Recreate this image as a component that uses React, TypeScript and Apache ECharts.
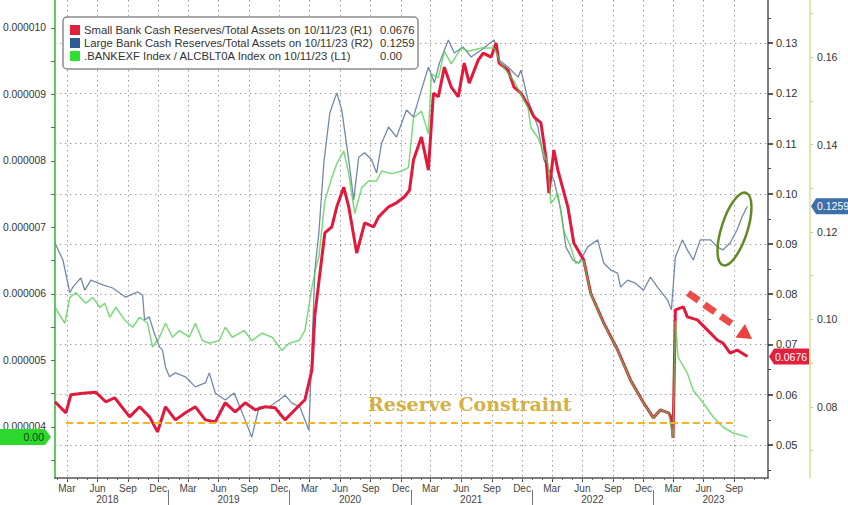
import { useEffect, useRef } from "react";
import * as echarts from "echarts";

// ---------- DATA ----------
const smallBank: [string, number][] = [
  ["2018-01-24", 0.0586], ["2018-02-26", 0.0564], ["2018-03-13", 0.06], ["2018-04-18", 0.0603],
  ["2018-05-27", 0.0605], ["2018-06-26", 0.0586], ["2018-07-23", 0.0594], ["2018-09-06", 0.0556],
  ["2018-10-06", 0.0576], ["2018-11-05", 0.0556], ["2018-11-29", 0.0526], ["2018-12-23", 0.0576],
  ["2019-01-22", 0.055], ["2019-02-21", 0.0564], ["2019-03-23", 0.0576], ["2019-04-22", 0.055],
  ["2019-05-22", 0.0546], ["2019-06-21", 0.0584], ["2019-07-21", 0.0566], ["2019-08-20", 0.0584],
  ["2019-09-19", 0.057], ["2019-10-19", 0.0576], ["2019-11-18", 0.0574], ["2019-12-18", 0.055],
  ["2020-01-17", 0.057], ["2020-02-16", 0.059], ["2020-03-08", 0.0649], ["2020-03-17", 0.0759],
  ["2020-04-16", 0.0922], ["2020-05-07", 0.0934], ["2020-05-22", 0.0974], ["2020-06-12", 0.1013],
  ["2020-06-27", 0.0974], ["2020-07-21", 0.0882], ["2020-08-14", 0.0942], ["2020-09-10", 0.0934],
  ["2020-09-25", 0.0954], ["2020-10-25", 0.0974], ["2020-11-18", 0.0982], ["2020-12-12", 0.0994],
  ["2020-12-27", 0.1007], ["2021-01-08", 0.1067], ["2021-02-01", 0.1113], ["2021-02-22", 0.1047],
  ["2021-03-09", 0.12], ["2021-03-24", 0.1193], ["2021-04-11", 0.1252], ["2021-05-02", 0.1212],
  ["2021-05-23", 0.1193], ["2021-06-10", 0.126], ["2021-06-25", 0.122], ["2021-07-22", 0.1266],
  ["2021-08-06", 0.128], ["2021-08-30", 0.1272], ["2021-09-14", 0.13], ["2021-09-23", 0.126],
  ["2021-10-20", 0.1246], ["2021-11-07", 0.1212], ["2021-11-28", 0.12], ["2021-12-22", 0.1173],
  ["2022-01-06", 0.1153], ["2022-01-27", 0.1141], ["2022-02-11", 0.1073], ["2022-02-20", 0.1001],
  ["2022-03-07", 0.1087], ["2022-03-19", 0.1047], ["2022-04-18", 0.0974], ["2022-05-06", 0.0902],
  ["2022-06-05", 0.0868], ["2022-06-26", 0.0802], ["2022-08-04", 0.0743], ["2022-09-15", 0.0689],
  ["2022-10-24", 0.0629], ["2022-12-02", 0.0584], ["2023-01-01", 0.0554], ["2023-01-22", 0.057],
  ["2023-02-15", 0.0564], ["2023-02-24", 0.0554], ["2023-03-01", 0.0514], ["2023-03-08", 0.0769],
  ["2023-04-01", 0.0775], ["2023-04-13", 0.0755], ["2023-05-13", 0.0749], ["2023-06-12", 0.0729],
  ["2023-07-12", 0.0709], ["2023-07-29", 0.0703], ["2023-08-20", 0.0683], ["2023-09-10", 0.0689],
  ["2023-10-11", 0.0676],
];

const largeBank: [string, number][] = [
  ["2018-01-24", 0.1175], ["2018-02-17", 0.1136], ["2018-03-10", 0.1061], ["2018-03-19", 0.1074],
  ["2018-04-12", 0.1095], ["2018-04-24", 0.1067], ["2018-05-12", 0.109], ["2018-06-17", 0.1079],
  ["2018-07-17", 0.1072], ["2018-08-25", 0.1051], ["2018-09-30", 0.1063], ["2018-10-15", 0.1056],
  ["2018-10-21", 0.0999], ["2018-11-04", 0.1006], ["2018-11-19", 0.0969], ["2018-12-05", 0.0937],
  ["2018-12-14", 0.093], ["2018-12-23", 0.0891], ["2019-01-04", 0.0869], ["2019-01-22", 0.0878],
  ["2019-02-21", 0.0869], ["2019-03-23", 0.0846], ["2019-04-22", 0.0855], ["2019-05-04", 0.0878],
  ["2019-05-22", 0.0832], ["2019-06-21", 0.0816], ["2019-07-18", 0.0832], ["2019-08-20", 0.077],
  ["2019-09-09", 0.0731], ["2019-10-01", 0.08], ["2019-10-31", 0.08], ["2019-11-30", 0.0816],
  ["2019-12-18", 0.0827], ["2020-01-08", 0.0809], ["2020-02-01", 0.08], ["2020-02-28", 0.0747],
  ["2020-03-17", 0.1113], ["2020-03-29", 0.1198], ["2020-04-13", 0.1358], ["2020-05-01", 0.1472],
  ["2020-05-22", 0.1518], ["2020-06-06", 0.1479], ["2020-06-27", 0.1365], ["2020-07-12", 0.1273],
  ["2020-07-27", 0.1371], ["2020-08-14", 0.1381], ["2020-09-04", 0.1365], ["2020-09-19", 0.1335],
  ["2020-10-04", 0.1403], ["2020-10-25", 0.144], ["2020-11-18", 0.1417], ["2020-12-18", 0.1479],
  ["2021-01-08", 0.1463], ["2021-02-01", 0.1525], ["2021-02-22", 0.1577], ["2021-03-12", 0.1541],
  ["2021-03-27", 0.1586], ["2021-04-23", 0.1639], ["2021-05-11", 0.1609], ["2021-06-06", 0.1623],
  ["2021-07-01", 0.16], ["2021-07-31", 0.1616], ["2021-09-08", 0.1639], ["2021-09-23", 0.1593],
  ["2021-10-20", 0.1577], ["2021-11-19", 0.1554], ["2021-11-28", 0.157], ["2021-12-19", 0.1502],
  ["2022-01-18", 0.144], ["2022-02-05", 0.1365], ["2022-03-07", 0.1319], ["2022-03-28", 0.125],
  ["2022-04-12", 0.1166], ["2022-05-03", 0.1136], ["2022-05-21", 0.1129], ["2022-06-17", 0.1166],
  ["2022-07-17", 0.1182], ["2022-08-04", 0.1129], ["2022-08-25", 0.1113], ["2022-09-15", 0.1106],
  ["2022-09-24", 0.1074], ["2022-10-15", 0.109], ["2022-11-08", 0.1083], ["2022-12-02", 0.1067],
  ["2022-12-23", 0.1097], ["2023-01-13", 0.1074], ["2023-02-12", 0.1045], ["2023-02-24", 0.1022],
  ["2023-03-08", 0.1143], ["2023-03-29", 0.1182], ["2023-04-13", 0.1159], ["2023-05-01", 0.1136],
  ["2023-05-22", 0.1182], ["2023-06-22", 0.1182], ["2023-07-12", 0.1166], ["2023-07-29", 0.1159],
  ["2023-08-20", 0.1175], ["2023-09-10", 0.1205], ["2023-09-25", 0.1235], ["2023-10-11", 0.1259],
];

const bankIndex: [string, number][] = [
  ["2018-01-24", 5.8e-6], ["2018-02-23", 5.56e-6], ["2018-03-10", 5.95e-6], ["2018-03-28", 6.02e-6],
  ["2018-04-27", 5.86e-6], ["2018-05-18", 5.95e-6], ["2018-06-08", 5.8e-6], ["2018-06-23", 5.86e-6],
  ["2018-07-08", 5.65e-6], ["2018-07-26", 5.8e-6], ["2018-08-22", 5.61e-6], ["2018-09-15", 5.5e-6],
  ["2018-10-06", 5.65e-6], ["2018-10-30", 5.56e-6], ["2018-11-14", 5.2e-6], ["2018-12-05", 5.35e-6],
  ["2018-12-23", 5.56e-6], ["2019-01-13", 5.35e-6], ["2019-02-03", 5.45e-6], ["2019-03-05", 5.35e-6],
  ["2019-03-23", 5.56e-6], ["2019-04-13", 5.3e-6], ["2019-05-04", 5.26e-6], ["2019-06-03", 5.3e-6],
  ["2019-06-21", 5.5e-6], ["2019-07-12", 5.35e-6], ["2019-08-17", 5.45e-6], ["2019-09-09", 5.3e-6],
  ["2019-10-10", 5.41e-6], ["2019-11-09", 5.35e-6], ["2019-12-09", 5.15e-6], ["2019-12-30", 5.26e-6],
  ["2020-01-29", 5.3e-6], ["2020-02-16", 5.45e-6], ["2020-03-08", 6.1e-6], ["2020-03-23", 6.46e-6],
  ["2020-03-29", 6.55e-6], ["2020-04-16", 7.4e-6], ["2020-05-07", 7.75e-6], ["2020-05-22", 7.96e-6],
  ["2020-06-12", 8.15e-6], ["2020-06-27", 7.81e-6], ["2020-07-15", 7.21e-6], ["2020-08-05", 7.6e-6],
  ["2020-08-26", 7.7e-6], ["2020-09-19", 7.7e-6], ["2020-10-04", 7.85e-6], ["2020-11-03", 7.81e-6],
  ["2020-12-03", 7.85e-6], ["2020-12-24", 7.9e-6], ["2021-01-08", 8.65e-6], ["2021-02-01", 8.75e-6],
  ["2021-02-22", 8.41e-6], ["2021-03-03", 9.31e-6], ["2021-03-24", 9.25e-6], ["2021-04-11", 9.65e-6],
  ["2021-05-02", 9.46e-6], ["2021-06-01", 9.7e-6], ["2021-06-22", 9.65e-6], ["2021-07-31", 9.7e-6],
  ["2021-09-08", 9.7e-6], ["2021-09-29", 9.46e-6], ["2021-11-07", 9.2e-6], ["2021-12-19", 8.8e-6],
  ["2021-12-28", 8.5e-6], ["2022-01-18", 8.35e-6], ["2022-02-17", 7.96e-6], ["2022-02-26", 7.36e-6],
  ["2022-03-19", 7.51e-6], ["2022-04-06", 6.95e-6], ["2022-04-27", 6.7e-6], ["2022-05-12", 6.46e-6],
  ["2022-06-05", 6.5e-6], ["2022-06-26", 6.01e-6], ["2022-08-04", 5.56e-6], ["2022-09-15", 5.15e-6],
  ["2022-10-24", 4.7e-6], ["2022-12-02", 4.36e-6], ["2023-01-01", 4.14e-6], ["2023-01-22", 4.26e-6],
  ["2023-02-15", 4.21e-6], ["2023-03-01", 3.84e-6], ["2023-03-08", 5.6e-6], ["2023-03-16", 5.05e-6],
  ["2023-04-13", 4.81e-6], ["2023-05-01", 4.55e-6], ["2023-05-31", 4.36e-6], ["2023-06-30", 4.15e-6],
  ["2023-07-29", 4.0e-6], ["2023-08-29", 3.91e-6], ["2023-10-11", 3.85e-6],
];

const leftTicks = [0.000004, 0.000005, 0.000006, 0.000007, 0.000008, 0.000009, 0.00001];
const leftMinorTicks = [0.0000035, 0.0000045, 0.0000055, 0.0000065, 0.0000075, 0.0000085, 0.0000095];
const r1Ticks = [0.05, 0.06, 0.07, 0.08, 0.09, 0.1, 0.11, 0.12, 0.13];
const r1MinorTicks = [0.045, 0.055, 0.065, 0.075, 0.085, 0.095, 0.105, 0.115, 0.125, 0.135];
const r2Ticks = [0.08, 0.1, 0.12, 0.14, 0.16];
const r2MinorTicks = [0.07, 0.09, 0.11, 0.13, 0.15, 0.17];
const years = [2018, 2019, 2020, 2021, 2022, 2023];
const monthNames = ["Jan", "Feb", "Mar", "Apr", "May", "Jun", "Jul", "Aug", "Sep", "Oct", "Nov", "Dec"];
const quarterMonths = [2, 5, 8, 11];
const lastLabelledMonth = "2023-09-01";
const reserveConstraint = 0.0545;
const reserveSpan = ["2018-02-26", "2023-08-29"];
const axisRange = ["2018-01-24", "2023-12-12"];
const legendRows = [
  { name: "Small Bank Cash Reserves/Total Assets on 10/11/23 (R1)", value: "0.0676", color: "#e0203c" },
  { name: "Large Bank Cash Reserves/Total Assets on 10/11/23 (R2)", value: "0.1259", color: "#2f5c96" },
  { name: ".BANKEXF Index / ALCBLT0A Index on 10/11/23 (L1)", value: "0.00", color: "#2ee02e" },
];

// ---------- HELPERS ----------
const ts = (d: string) => {
  const [y, m, dd] = d.split("-").map(Number);
  return Date.UTC(y, m - 1, dd);
};
const X_MIN = ts(axisRange[0]);
const X_MAX = ts(axisRange[1]);
const inRange = (v: number) => v >= X_MIN && v <= X_MAX;
const quarterTicks: number[] = [];
const monthTicks: number[] = [];
years.forEach((y) => {
  for (let m = 0; m < 12; m++) {
    const t = Date.UTC(y, m, 1);
    if (!inRange(t)) continue;
    monthTicks.push(t);
    if (quarterMonths.includes(m) && t <= ts(lastLabelledMonth)) quarterTicks.push(t);
  }
});
const yearStarts = years.map((y) => Date.UTC(y, 0, 1)).filter(inRange);
const yearMids = years.map((y) => Date.UTC(y, 6, 1)).filter(inRange);

const FONT = "'Liberation Sans', Arial, sans-serif";
const GRID = { left: 52, right: 80, top: 0, bottom: 27 };

export default function App() {
  const ref = useRef<HTMLDivElement>(null);
  useEffect(() => {
    if (!ref.current) return;
    const chart = echarts.init(ref.current, null, { renderer: "svg" });
    const toPts = (arr: [string, number][]) => arr.map(([d, v]) => [ts(d), v]);

    const option: any = {
      animation: false,
      backgroundColor: "#ffffff",
      grid: GRID,
      xAxis: [
        {
          type: "value", min: X_MIN, max: X_MAX, position: "bottom",
          axisLine: { show: true, lineStyle: { color: "#555", width: 1.5 } },
          axisTick: { customValues: quarterTicks, length: 4, lineStyle: { color: "#444" } },
          axisLabel: {
            customValues: quarterTicks, margin: 5, fontSize: 10, color: "#444", fontFamily: FONT,
            formatter: (v: number) => monthNames[new Date(v).getUTCMonth()],
          },
          splitLine: { show: true, lineStyle: { type: [1.5, 3.5], color: "#9c9c9c", width: 1 } },
        },
        {
          type: "value", min: X_MIN, max: X_MAX, position: "bottom", offset: 12,
          axisLine: { show: false },
          axisTick: { customValues: yearStarts, length: 15, lineStyle: { color: "#777" } },
          axisLabel: {
            customValues: yearMids, margin: 4, fontSize: 10, color: "#444", fontFamily: FONT,
            formatter: (v: number) => String(new Date(v).getUTCFullYear()),
          },
          splitLine: { show: false },
        },
        {
          type: "value", min: X_MIN, max: X_MAX, position: "bottom",
          axisLine: { show: false },
          axisTick: { customValues: monthTicks, length: 2, lineStyle: { color: "#666" } },
          axisLabel: { show: false },
          splitLine: { show: false },
        },
      ],
      yAxis: [
        {
          type: "value", position: "left", min: 3.233e-6, max: 10.421e-6,
          axisLine: { show: true, lineStyle: { color: "#62c862", width: 2 } },
          axisTick: { show: true, customValues: [...leftTicks, ...leftMinorTicks], length: 4, lineStyle: { color: "#666" } },
          axisLabel: {
            customValues: leftTicks, margin: 9, fontSize: 10.3, color: "#333", fontFamily: FONT,
            formatter: (v: number) => v.toFixed(6),
          },
          splitLine: { show: false },
        },
        {
          type: "value", position: "right", min: 0.04343, max: 0.13856,
          axisLine: { show: true, lineStyle: { color: "#555", width: 1.5 } },
          axisTick: { show: true, customValues: r1Ticks, length: 5, lineStyle: { color: "#222", width: 1.5 } },
          axisLabel: {
            customValues: r1Ticks, margin: 8, fontSize: 11, color: "#333", fontFamily: FONT,
            formatter: (v: number) => v.toFixed(2),
          },
          splitLine: { show: true, lineStyle: { type: [1.5, 3.5], color: "#9c9c9c", width: 1 } },
        },
        {
          type: "value", position: "right", offset: 42, min: 0.06377, max: 0.17303,
          axisLine: { show: true, lineStyle: { color: "#d6dc9c", width: 1.5 } },
          axisTick: { show: true, customValues: [...r2Ticks, ...r2MinorTicks], length: 3, lineStyle: { color: "#c9d08a" } },
          axisLabel: {
            customValues: r2Ticks, margin: 7, fontSize: 10.5, color: "#333", fontFamily: FONT,
            formatter: (v: number) => v.toFixed(2),
          },
          splitLine: { show: false },
        },
        {
          type: "value", position: "right", min: 0.04343, max: 0.13856,
          axisLine: { show: false },
          axisTick: { show: true, customValues: r1MinorTicks, length: 3, lineStyle: { color: "#444" } },
          axisLabel: { show: false },
          splitLine: { show: false },
        },
      ],
      series: [
        {
          name: "Large Bank", type: "line", yAxisIndex: 2, showSymbol: false, symbol: "none",
          data: toPts(largeBank), lineStyle: { color: "#7389a8", width: 1.3 }, itemStyle: { color: "#7389a8" }, z: 2,
        },
        {
          name: "Small Bank", type: "line", yAxisIndex: 1, showSymbol: false, symbol: "none",
          data: toPts(smallBank), lineStyle: { color: "#e2183c", width: 3 }, itemStyle: { color: "#e2183c" }, z: 3,
          markLine: {
            silent: true, symbol: ["none", "none"], label: { show: false }, animation: false,
            lineStyle: { color: "#f2b51e", width: 2, type: [7, 4] },
            data: [[
              { coord: [ts(reserveSpan[0]), reserveConstraint] },
              { coord: [ts(reserveSpan[1]), reserveConstraint] },
            ]],
          },
        },
        {
          name: "BANKEXF", type: "line", yAxisIndex: 0, showSymbol: false, symbol: "none",
          data: toPts(bankIndex), lineStyle: { color: "#4fcf4f", width: 1.5, opacity: 0.75 }, itemStyle: { color: "#4fcf4f" }, z: 4,
        },
      ],
    };
    chart.setOption(option);

    const lastSmall = smallBank[smallBank.length - 1][1];
    const lastLarge = largeBank[largeBank.length - 1][1];
    const lastIdx = bankIndex[bankIndex.length - 1][1];
    const yRed = chart.convertToPixel({ yAxisIndex: 1 }, lastSmall) as number;
    const yBlue = chart.convertToPixel({ yAxisIndex: 2 }, lastLarge) as number;
    const yGreen = chart.convertToPixel({ yAxisIndex: 0 }, lastIdx) as number;

    const legendEls: any[] = [
      {
        type: "rect", z: 100, shape: { x: 63, y: 17, width: 355, height: 52, r: 4 },
        style: { fill: "#ffffff", stroke: "#8c8c8c", lineWidth: 1.5 },
      },
    ];
    legendRows.forEach((row, i) => {
      const cy = 30 + i * 13;
      legendEls.push({ type: "rect", z: 101, shape: { x: 70, y: cy - 5, width: 10, height: 10 }, style: { fill: row.color } });
      legendEls.push({
        type: "text", z: 101, x: 84, y: cy,
        style: { text: row.name, fill: "#333", fontSize: 11.3, fontFamily: FONT, verticalAlign: "middle" },
      });
      legendEls.push({
        type: "text", z: 101, x: 380, y: cy,
        style: { text: row.value, fill: "#333", fontSize: 11.3, fontFamily: FONT, verticalAlign: "middle" },
      });
    });

    const tag = (x0: number, x1: number, cy: number, fill: string, text: string, textColor: string, pointLeft: boolean) => {
      const h = 8;
      const pts = pointLeft
        ? [[x0, cy], [x0 + 5, cy - h], [x1, cy - h], [x1, cy + h], [x0 + 5, cy + h]]
        : [[x0, cy - h], [x1 - 6, cy - h], [x1, cy], [x1 - 6, cy + h], [x0, cy + h]];
      return [
        { type: "polygon", z: 110, shape: { points: pts }, style: { fill } },
        {
          type: "text", z: 111, x: pointLeft ? x0 + 6 : x1 - 7, y: cy,
          style: {
            text, fill: textColor, fontSize: 10.5, fontFamily: FONT, verticalAlign: "middle",
            align: pointLeft ? "left" : "right",
          },
        },
      ];
    };

    const annotations: any[] = [
      {
        type: "text", z: 50, x: 368, y: 404,
        style: {
          text: "Reserve Constraint", fill: "#d5af43", fontSize: 19, fontWeight: "bold",
          fontFamily: "'DejaVu Serif', 'Liberation Serif', serif", verticalAlign: "middle",
        },
      },
      {
        type: "ellipse", z: 60, x: 734.5, y: 229, rotation: -0.31,
        shape: { cx: 0, cy: 0, rx: 13, ry: 38 },
        style: { fill: "none", stroke: "#618a22", lineWidth: 2.5 },
      },
      {
        type: "line", z: 60, shape: { x1: 688, y1: 293, x2: 737, y2: 327.5 },
        style: { stroke: "rgba(232,45,40,0.85)", lineWidth: 7, lineDash: [13, 7] },
      },
      {
        type: "polygon", z: 60,
        shape: { points: [[752, 339], [735.5, 337.5], [745, 324]] },
        style: { fill: "rgba(232,45,40,0.9)" },
      },
    ];

    chart.setOption({
      graphic: [
        ...legendEls,
        ...annotations,
        ...tag(769, 809, yRed, "#e0203c", lastSmall.toFixed(4), "#ffffff", true),
        ...tag(811, 848, yBlue, "#3e6fa8", lastLarge.toFixed(4), "#ffffff", true),
        ...tag(0, 51, yGreen, "#2bd82b", "0.00", "#123d12", false),
      ],
    });

    return () => chart.dispose();
  }, []);

  return <div ref={ref} style={{ position: "fixed", left: 0, top: 0, width: 848, height: 505 }} />;
}
